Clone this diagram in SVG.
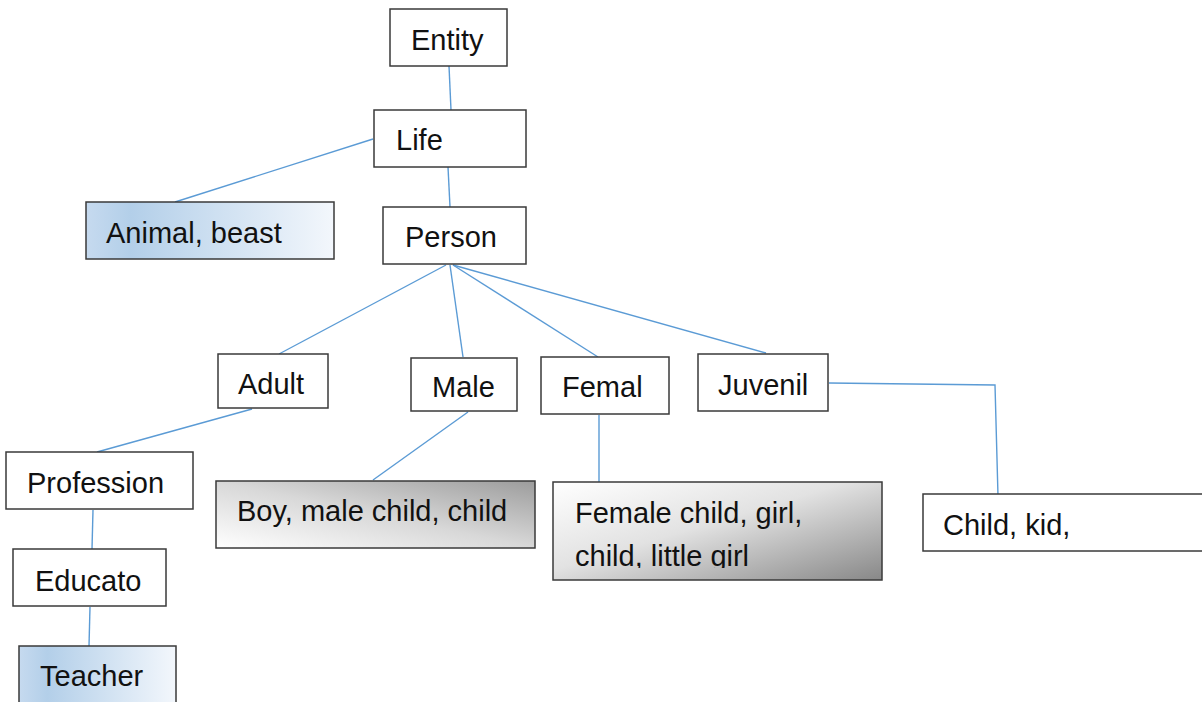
<svg xmlns="http://www.w3.org/2000/svg" width="1202" height="702" viewBox="0 0 1202 702">
  <style>
    .box { fill: #ffffff; stroke: #3a3a3a; stroke-width: 1.5; }
    .lbl { font-family: "Liberation Sans", Arial, sans-serif; font-size: 29px; fill: #111111; }
    .wire { fill: none; stroke: #5b9bd5; stroke-width: 1.4; }
  </style>
  <defs>
    <linearGradient id="blueFill" x1="0" y1="0" x2="1" y2="0">
      <stop offset="0" stop-color="#c6daef"/>
      <stop offset="0.18" stop-color="#b3cfe9"/>
      <stop offset="1" stop-color="#f3f7fc"/>
    </linearGradient>
    <linearGradient id="greyRise" x1="0" y1="1" x2="1" y2="0">
      <stop offset="0" stop-color="#ffffff"/>
      <stop offset="0.5" stop-color="#d8d8d8"/>
      <stop offset="1" stop-color="#9c9c9c"/>
    </linearGradient>
    <linearGradient id="greyFall" x1="0" y1="0" x2="1" y2="1">
      <stop offset="0" stop-color="#ffffff"/>
      <stop offset="0.45" stop-color="#e2e2e2"/>
      <stop offset="1" stop-color="#888888"/>
    </linearGradient>
    <clipPath id="femaleClip">
      <rect x="553" y="482" width="329" height="86"/>
    </clipPath>
  </defs>

  <!-- connectors -->
  <g id="connectors">
    <line class="wire" x1="449" y1="66" x2="451" y2="110"/>
    <line class="wire" x1="448" y1="167" x2="450" y2="207"/>
    <line class="wire" x1="373" y1="139" x2="175" y2="202"/>
    <line class="wire" x1="446" y1="265" x2="279" y2="354"/>
    <line class="wire" x1="450" y1="265" x2="463" y2="357"/>
    <line class="wire" x1="453" y1="265" x2="598" y2="357"/>
    <line class="wire" x1="453" y1="265" x2="766" y2="353"/>
    <line class="wire" x1="252" y1="409" x2="97" y2="452"/>
    <line class="wire" x1="93" y1="510" x2="92" y2="549"/>
    <line class="wire" x1="90" y1="607" x2="89" y2="646"/>
    <line class="wire" x1="468" y1="412" x2="373" y2="480"/>
    <line class="wire" x1="599" y1="415" x2="599" y2="482"/>
    <polyline class="wire" points="829,383 995,385 998,496"/>
  </g>

  <g id="entity">
    <rect class="box" x="390" y="9" width="117" height="57"/>
    <text class="lbl" x="411" y="50">Entity</text>
  </g>
  <g id="life">
    <rect class="box" x="374" y="110" width="152" height="57"/>
    <text class="lbl" x="396" y="150">Life</text>
  </g>
  <g id="person">
    <rect class="box" x="383" y="207" width="143" height="57"/>
    <text class="lbl" x="405" y="247">Person</text>
  </g>
  <g id="animal">
    <rect class="box" x="86" y="202" width="248" height="57" style="fill:url(#blueFill)"/>
    <text class="lbl" x="106" y="243">Animal, beast</text>
  </g>
  <g id="adult">
    <rect class="box" x="218" y="354" width="110" height="54"/>
    <text class="lbl" x="238" y="394">Adult</text>
  </g>
  <g id="male">
    <rect class="box" x="411" y="358" width="106" height="53"/>
    <text class="lbl" x="432" y="397">Male</text>
  </g>
  <g id="femal">
    <rect class="box" x="541" y="357" width="128" height="57"/>
    <text class="lbl" x="562" y="397">Femal</text>
  </g>
  <g id="juvenil">
    <rect class="box" x="698" y="354" width="130" height="57"/>
    <text class="lbl" x="718" y="395">Juvenil</text>
  </g>
  <g id="profession">
    <rect class="box" x="6" y="452" width="187" height="57"/>
    <text class="lbl" x="27" y="493">Profession</text>
  </g>
  <g id="educato">
    <rect class="box" x="13" y="549" width="153" height="57"/>
    <text class="lbl" x="35" y="591">Educato</text>
  </g>
  <g id="teacher">
    <rect class="box" x="19" y="646" width="157" height="70" style="fill:url(#blueFill)"/>
    <text class="lbl" x="40" y="686">Teacher</text>
  </g>
  <g id="boy">
    <rect class="box" x="216" y="481" width="319" height="67" style="fill:url(#greyRise)"/>
    <text class="lbl" x="237" y="521">Boy, male child, child</text>
  </g>
  <g id="female">
    <rect class="box" x="553" y="482" width="329" height="98" style="fill:url(#greyFall)"/>
    <g clip-path="url(#femaleClip)">
      <text class="lbl" x="575" y="523">Female child, girl,</text>
      <text class="lbl" x="575" y="566">child, little girl</text>
    </g>
  </g>
  <g id="child">
    <rect class="box" x="923" y="494" width="290" height="57"/>
    <text class="lbl" x="943" y="535">Child, kid,</text>
  </g>
</svg>
